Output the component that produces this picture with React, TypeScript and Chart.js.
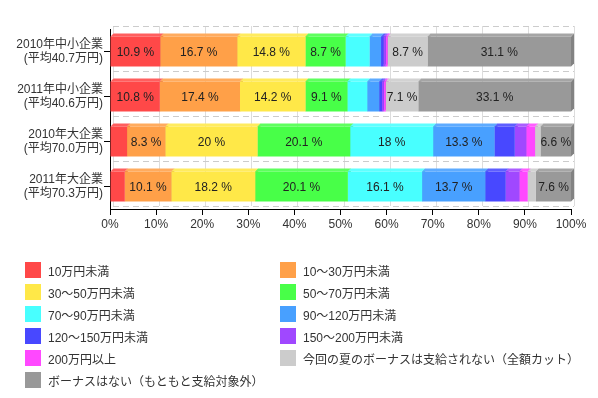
import React, { useEffect, useRef } from "react";
import { Chart, registerables } from "chart.js";

Chart.register(...registerables);

const categories: string[][] = [
  ["2010年中小企業", "(平均40.7万円)"],
  ["2011年中小企業", "(平均40.6万円)"],
  ["2010年大企業", "(平均70.0万円)"],
  ["2011年大企業", "(平均70.3万円)"],
];

const seriesNames = [
  "10万円未満",
  "10～30万円未満",
  "30～50万円未満",
  "50～70万円未満",
  "70～90万円未満",
  "90～120万円未満",
  "120～150万円未満",
  "150～200万円未満",
  "200万円以上",
  "今回の夏のボーナスは支給されない（全額カット）",
  "ボーナスはない（もともと支給対象外）",
];

const seriesColors = [
  "#FF4848",
  "#FFA048",
  "#FFE848",
  "#48FF48",
  "#48FFFF",
  "#48A0FF",
  "#4848FF",
  "#A048FF",
  "#FF48FF",
  "#CCCCCC",
  "#999999",
];

const under10 = [10.9, 10.8, 3.7, 3.2];
const from10to30 = [16.7, 17.4, 8.3, 10.1];
const from30to50 = [14.8, 14.2, 20, 18.2];
const from50to70 = [8.7, 9.1, 20.1, 20.1];
const from70to90 = [5.2, 4.3, 18, 16.1];
const from90to120 = [2.5, 2.6, 13.3, 13.7];
const from120to150 = [0.5, 0.6, 4.4, 4.4];
const from150to200 = [0.5, 0.4, 2.5, 3.0];
const over200 = [0.4, 0.4, 1.9, 1.8];
const notPaid = [8.7, 7.1, 1.2, 1.8];
const noBonus = [31.1, 33.1, 6.6, 7.6];

const seriesValues = [
  under10,
  from10to30,
  from30to50,
  from50to70,
  from70to90,
  from90to120,
  from120to150,
  from150to200,
  over200,
  notPaid,
  noBonus,
];

const xTicks = [0, 10, 20, 30, 40, 50, 60, 70, 80, 90, 100];

const FONT = '"Liberation Sans", Arial, "Noto Sans CJK JP", sans-serif';
const DEPTH = 3;

function shade(hex: string, f: number): string {
  const n = parseInt(hex.slice(1), 16);
  let r = (n >> 16) & 255;
  let g = (n >> 8) & 255;
  let b = n & 255;
  if (f >= 0) {
    r = Math.round(r + (255 - r) * f);
    g = Math.round(g + (255 - g) * f);
    b = Math.round(b + (255 - b) * f);
  } else {
    r = Math.round(r * (1 + f));
    g = Math.round(g * (1 + f));
    b = Math.round(b * (1 + f));
  }
  return `rgb(${r},${g},${b})`;
}

const backPlanePlugin = {
  id: "backPlane",
  beforeDatasetsDraw(chart: any) {
    const { ctx, chartArea, scales } = chart;
    const xs = scales.x;
    const ys = scales.y;
    ctx.save();
    // vertical grid lines (back plane)
    ctx.strokeStyle = "#dddddd";
    ctx.lineWidth = 1;
    ctx.setLineDash([]);
    xTicks.forEach((t) => {
      const x = Math.round(xs.getPixelForValue(t)) + DEPTH + 0.5;
      ctx.beginPath();
      ctx.moveTo(x, chartArea.top - DEPTH);
      ctx.lineTo(x, chartArea.bottom - DEPTH);
      ctx.stroke();
    });
    // dashed horizontal lines at category boundaries
    ctx.strokeStyle = "#cccccc";
    ctx.setLineDash([6, 4]);
    const n = categories.length;
    const step = (chartArea.bottom - chartArea.top) / n;
    for (let i = 0; i <= n; i++) {
      const y = Math.round(chartArea.top + i * step) - DEPTH + 0.5;
      ctx.beginPath();
      ctx.moveTo(chartArea.left + DEPTH, y);
      ctx.lineTo(chartArea.right + DEPTH, y);
      ctx.stroke();
    }
    ctx.setLineDash([]);
    // 3D faces of bars
    chart.data.datasets.forEach((ds: any, di: number) => {
      const meta = chart.getDatasetMeta(di);
      const color = seriesColors[di];
      meta.data.forEach((el: any) => {
        const p = el.getProps(["x", "y", "base", "height"], true);
        const left = Math.min(p.x, p.base);
        const right = Math.max(p.x, p.base);
        if (right - left <= 0) return;
        const top = p.y - p.height / 2;
        const bottom = p.y + p.height / 2;
        // right face
        ctx.fillStyle = shade(color, -0.15);
        ctx.beginPath();
        ctx.moveTo(right, top);
        ctx.lineTo(right + DEPTH, top - DEPTH);
        ctx.lineTo(right + DEPTH, bottom - DEPTH);
        ctx.lineTo(right, bottom);
        ctx.closePath();
        ctx.fill();
        // top face
        ctx.fillStyle = shade(color, 0.12);
        ctx.beginPath();
        ctx.moveTo(left, top);
        ctx.lineTo(left + DEPTH, top - DEPTH);
        ctx.lineTo(right + DEPTH, top - DEPTH);
        ctx.lineTo(right, top);
        ctx.closePath();
        ctx.fill();
      });
    });
    ctx.restore();
  },
};

const labelPlugin = {
  id: "segLabels",
  afterDatasetsDraw(chart: any) {
    const { ctx } = chart;
    ctx.save();
    ctx.font = `12px ${FONT}`;
    ctx.fillStyle = "#222222";
    ctx.textAlign = "center";
    ctx.textBaseline = "middle";
    chart.data.datasets.forEach((ds: any, di: number) => {
      const meta = chart.getDatasetMeta(di);
      meta.data.forEach((el: any, i: number) => {
        const v = ds.data[i];
        if (v < 6) return;
        const c = el.getCenterPoint();
        ctx.fillText(`${v} %`, c.x, c.y + 1);
      });
    });
    ctx.restore();
  },
};

function Legend() {
  return (
    <>
      {seriesNames.map((name, i) => {
        const col = i % 2;
        const row = Math.floor(i / 2);
        const cy = 270 + row * 22;
        const bx = col === 0 ? 25 : 280;
        return (
          <div
            key={name}
            style={{
              position: "absolute",
              left: bx,
              top: cy - 8,
              height: 16,
              display: "flex",
              alignItems: "center",
              whiteSpace: "nowrap",
              fontFamily: FONT,
              fontSize: 12,
              color: "#333333",
            }}
          >
            <span
              style={{
                display: "inline-block",
                width: 16,
                height: 16,
                background: seriesColors[i],
                marginRight: 7,
              }}
            />
            <span>{name}</span>
          </div>
        );
      })}
    </>
  );
}

export default function App() {
  const ref = useRef<HTMLCanvasElement | null>(null);

  useEffect(() => {
    if (!ref.current) return;
    const chart = new Chart(ref.current, {
      type: "bar",
      data: {
        labels: categories,
        datasets: seriesNames.map((name, i) => ({
          label: name,
          data: seriesValues[i],
          backgroundColor: seriesColors[i],
          borderWidth: 0,
          barPercentage: 0.667,
          categoryPercentage: 1,
        })),
      },
      options: {
        indexAxis: "y",
        responsive: false,
        animation: false,
        devicePixelRatio: 1,
        layout: { padding: { left: 0, right: 27, top: 29, bottom: 167 } },
        plugins: {
          legend: { display: false },
          tooltip: { enabled: false },
          title: { display: false },
        },
        scales: {
          x: {
            stacked: true,
            min: 0,
            max: 100,
            afterFit: (s: any) => {
              s.height = 22;
            },
            afterBuildTicks: (s: any) => {
              s.ticks = xTicks.map((v) => ({ value: v }));
            },
            ticks: {
              callback: (v: any) => `${v}%`,
              color: "#333333",
              font: { family: FONT, size: 12 },
              padding: 2,
              maxRotation: 0,
            },
            grid: {
              drawOnChartArea: false,
              drawTicks: true,
              tickLength: 6,
              color: "#000000",
            },
            border: { display: true, color: "#000000", width: 1 },
          },
          y: {
            stacked: true,
            afterFit: (s: any) => {
              s.width = 110;
            },
            ticks: {
              color: "#333333",
              font: { family: FONT, size: 12 },
              padding: 1,
            },
            grid: {
              offset: false,
              drawOnChartArea: false,
              drawTicks: true,
              tickLength: 6,
              color: "#000000",
            },
            border: { display: true, color: "#000000", width: 1 },
          },
        },
      } as any,
      plugins: [backPlanePlugin, labelPlugin],
    });
    return () => chart.destroy();
  }, []);

  return (
    <div
      style={{
        position: "fixed",
        left: 0,
        top: 0,
        width: 598,
        height: 398,
        background: "#ffffff",
      }}
    >
      <canvas
        ref={ref}
        width={598}
        height={398}
        style={{ position: "absolute", left: 0, top: 0, width: 598, height: 398 }}
      />
      <Legend />
    </div>
  );
}
